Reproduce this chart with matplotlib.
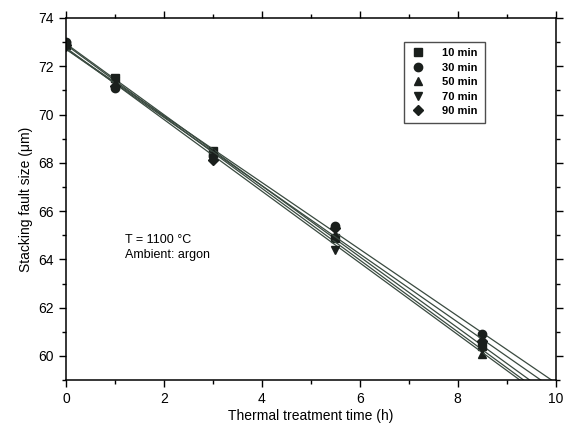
import numpy as np
from matplotlib import pyplot as plt
from matplotlib.ticker import MultipleLocator

plt.rcParams['font.family'] = ['Liberation Sans', 'DejaVu Sans']

times = [0, 1, 3, 5.5, 8.5]
labels = ['10 min', '30 min', '50 min', '70 min', '90 min']
markers = ['s', 'o', '^', 'v', 'D']
size_10 = [72.9, 71.5, 68.5, 64.9, 60.4]
size_30 = [73.0, 71.1, 68.3, 65.4, 60.9]
size_50 = [72.9, 71.3, 68.4, 65.0, 60.1]
size_70 = [72.8, 71.4, 68.2, 64.4, 60.3]
size_90 = [72.9, 71.2, 68.1, 65.3, 60.6]
series = [size_10, size_30, size_50, size_70, size_90]

fig = plt.figure(figsize=(5.64, 4.28), dpi=100)
ax = fig.add_axes([0.117, 0.112, 0.868, 0.846])

x_fit = np.linspace(0, 10, 50)
for vals, lab, mk in zip(series, labels, markers):
    slope, icpt = np.polyfit(times, vals, 1)
    ax.plot(x_fit, slope * x_fit + icpt, color='#3a4a40', lw=0.9)
    ax.plot(times, vals, linestyle='none', marker=mk, color='#1a1f1c',
            markersize=6 if mk != 'D' else 5, label=lab)

ax.set_xlim(0, 10)
ax.set_ylim(59, 74)
ax.xaxis.set_major_locator(MultipleLocator(2))
ax.xaxis.set_minor_locator(MultipleLocator(1))
ax.yaxis.set_major_locator(MultipleLocator(2))
ax.yaxis.set_minor_locator(MultipleLocator(1))
ax.tick_params(which='both', direction='out', right=True, top=True,
               labelsize=10, width=1)
ax.tick_params(which='major', length=5)
ax.tick_params(which='minor', length=3)
for s in ax.spines.values():
    s.set_linewidth(1.1)

ax.set_xlabel('Thermal treatment time (h)', fontsize=10, labelpad=2)
ax.set_ylabel('Stacking fault size (\u03bcm)', fontsize=10)

ax.text(1.2, 64.5, 'T = 1100 \u00b0C\nAmbient: argon', fontsize=9,
        linespacing=1.3, va='center')

leg = ax.legend(loc='upper right', bbox_to_anchor=(0.855, 0.935), fontsize=8,
                markerfirst=True, fancybox=False, edgecolor='#222222',
                handlelength=1.2, handletextpad=1.6, labelspacing=0.4,
                borderpad=0.6, borderaxespad=0)
leg.get_frame().set_linewidth(1.0)
for t in leg.get_texts():
    t.set_fontweight('bold')

fig.savefig('out.png', dpi=100)
